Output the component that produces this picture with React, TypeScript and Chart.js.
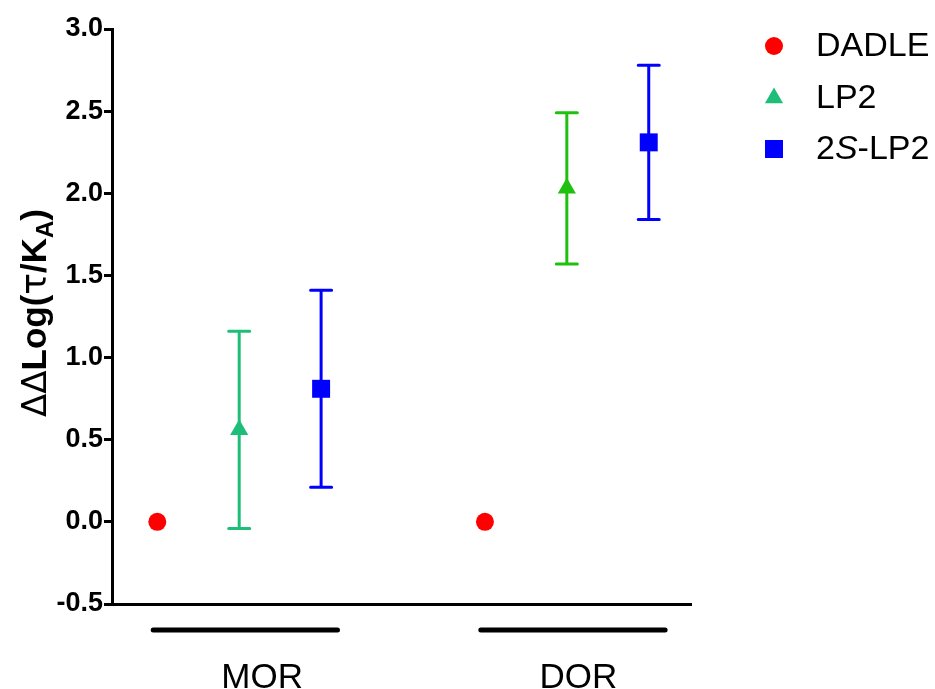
import React, { useEffect, useRef } from 'react';
import { Chart, registerables } from 'chart.js';

Chart.register(...registerables);

// ---- data ----
const groups = ['MOR', 'DOR'];
const groupOffsets = [0, 4];
const groupLabelPositions = [2.28, 6.14];
const seriesNames = ['DADLE', 'LP2', '2S-LP2'];
const seriesSlots = [1, 2, 3];
const dadleMeans = [0, 0];
const dadleErrors = [0, 0];
const lp2Means = [0.56, 2.03];
const lp2Errors = [0.6, 0.46];
const s2lp2Means = [0.81, 2.31];
const s2lp2Errors = [0.6, 0.47];
const yTickValues = [-0.5, 0, 0.5, 1.0, 1.5, 2.0, 2.5, 3.0];

const FONT = "'Liberation Sans', Arial, Helvetica, sans-serif";
const SYM = "'DejaVu Sans', 'Liberation Sans', sans-serif";
const RED = '#ff0000';
const TEAL = '#1ebe78';
const GREEN = '#20c010';
const BLUE = '#0000ff';

function drawMarker(ctx: CanvasRenderingContext2D, style: string, x: number, y: number, r: number, color: string) {
  ctx.save();
  ctx.fillStyle = color;
  ctx.beginPath();
  if (style === 'circle') {
    ctx.arc(x, y, r, 0, Math.PI * 2);
  } else if (style === 'triangle') {
    for (let k = 0; k < 3; k++) {
      const a = (k * 2 * Math.PI) / 3;
      const px = x + Math.sin(a) * r;
      const py = y - Math.cos(a) * r;
      if (k === 0) ctx.moveTo(px, py);
      else ctx.lineTo(px, py);
    }
    ctx.closePath();
  } else {
    const s = r * Math.SQRT1_2;
    ctx.rect(x - s, y - s, 2 * s, 2 * s);
  }
  ctx.fill();
  ctx.restore();
}

const errorBarPlugin = {
  id: 'errorBars',
  beforeDatasetsDraw(chart: any) {
    const ctx = chart.ctx;
    const xs = chart.scales.x;
    const ys = chart.scales.y;
    chart.data.datasets.forEach((ds: any) => {
      const errs: number[] = ds.errors || [];
      ds.data.forEach((p: any, i: number) => {
        const e = errs[i];
        if (!e) return;
        const colors = ds.errorColors || [];
        const x = xs.getPixelForValue(p.x);
        const yHi = ys.getPixelForValue(p.y + e);
        const yLo = ys.getPixelForValue(p.y - e);
        ctx.save();
        ctx.strokeStyle = colors[i] || '#000';
        ctx.lineWidth = 3;
        ctx.lineCap = 'round';
        ctx.beginPath();
        ctx.moveTo(x, yHi);
        ctx.lineTo(x, yLo);
        ctx.moveTo(x - 10.5, yHi);
        ctx.lineTo(x + 10.5, yHi);
        ctx.moveTo(x - 10.5, yLo);
        ctx.lineTo(x + 10.5, yLo);
        ctx.stroke();
        ctx.restore();
      });
    });
  },
};

const decorPlugin = {
  id: 'decor',
  afterDraw(chart: any) {
    const ctx = chart.ctx;
    const xs = chart.scales.x;
    // group underlines
    ctx.save();
    ctx.strokeStyle = '#000';
    ctx.lineWidth = 5;
    ctx.lineCap = 'round';
    groupOffsets.forEach((off) => {
      const x1 = xs.getPixelForValue(off + 0.95);
      const x2 = xs.getPixelForValue(off + 3.2);
      ctx.beginPath();
      ctx.moveTo(x1, 630);
      ctx.lineTo(x2, 630);
      ctx.stroke();
    });
    ctx.restore();

    // legend
    const rowsY = [46, 98, 149];
    const legendParts = [
      [{ t: 'DADLE', i: false }],
      [{ t: 'LP2', i: false }],
      [{ t: '2', i: false }, { t: 'S', i: true }, { t: '-LP2', i: false }],
    ];
    chart.data.datasets.forEach((ds: any, k: number) => {
      const y = rowsY[k];
      drawMarker(ctx, ds.pointStyle, 774, y, ds.pointRadius, ds.legendColor);
      let x = 816;
      ctx.save();
      ctx.fillStyle = '#000';
      ctx.textBaseline = 'middle';
      ctx.textAlign = 'left';
      legendParts[k].forEach((p) => {
        ctx.font = `${p.i ? 'italic ' : ''}34px ${FONT}`;
        ctx.fillText(p.t, x, y + 1);
        x += ctx.measureText(p.t).width;
      });
      ctx.restore();
    });

    // y-axis title  ΔΔLog(τ/K_A)
    const segs = [
      { t: '\u0394\u0394', f: `34px ${SYM}`, dy: 0 },
      { t: 'Log(', f: `bold 35px ${FONT}`, dy: 0 },
      { t: '\u03c4', f: `36px ${SYM}`, dy: 0 },
      { t: '/K', f: `bold 35px ${FONT}`, dy: 0 },
      { t: 'A', f: `bold 24px ${FONT}`, dy: 7 },
      { t: ')', f: `bold 35px ${FONT}`, dy: 0 },
    ];
    ctx.save();
    let total = 0;
    segs.forEach((s) => {
      ctx.font = s.f;
      total += ctx.measureText(s.t).width;
    });
    ctx.translate(46, 313);
    ctx.rotate(-Math.PI / 2);
    ctx.fillStyle = '#000';
    ctx.textBaseline = 'alphabetic';
    ctx.textAlign = 'left';
    let cx = -total / 2;
    segs.forEach((s) => {
      ctx.font = s.f;
      ctx.fillText(s.t, cx, s.dy);
      cx += ctx.measureText(s.t).width;
    });
    ctx.restore();
  },
};

function makePoints(means: number[], slot: number) {
  return means.map((m, i) => ({ x: groupOffsets[i] + slot, y: m }));
}

export default function App() {
  const ref = useRef<HTMLCanvasElement | null>(null);
  useEffect(() => {
    if (!ref.current) return;
    const chart = new Chart(ref.current, {
      type: 'scatter',
      data: {
        datasets: [
          {
            label: seriesNames[0],
            data: makePoints(dadleMeans, seriesSlots[0]),
            errors: dadleErrors,
            errorColors: [RED, RED],
            legendColor: RED,
            pointStyle: 'circle',
            pointRadius: 9,
            pointHoverRadius: 9,
            pointBackgroundColor: [RED, RED],
            pointBorderWidth: 0,
            clip: false,
          } as any,
          {
            label: seriesNames[1],
            data: makePoints(lp2Means, seriesSlots[1]),
            errors: lp2Errors,
            errorColors: [TEAL, GREEN],
            legendColor: TEAL,
            pointStyle: 'triangle',
            pointRadius: 10.5,
            pointHoverRadius: 10.5,
            pointBackgroundColor: [TEAL, GREEN],
            pointBorderWidth: 0,
            clip: false,
          } as any,
          {
            label: seriesNames[2],
            data: makePoints(s2lp2Means, seriesSlots[2]),
            errors: s2lp2Errors,
            errorColors: [BLUE, BLUE],
            legendColor: BLUE,
            pointStyle: 'rect',
            pointRadius: 12.7,
            pointHoverRadius: 12.7,
            pointBackgroundColor: [BLUE, BLUE],
            pointBorderWidth: 0,
            clip: false,
          } as any,
        ],
      },
      options: {
        responsive: false,
        animation: false,
        layout: { padding: { top: 29, right: 244, left: 0, bottom: 0 } },
        plugins: { legend: { display: false }, tooltip: { enabled: false } },
        scales: {
          x: {
            type: 'linear',
            min: 0.447,
            max: 7.516,
            afterBuildTicks: (s: any) => {
              s.ticks = groups.map((g, i) => ({ value: groupLabelPositions[i] }));
            },
            ticks: {
              callback: (_v: any, i: number) => groups[i],
              font: { family: FONT, size: 35 },
              color: '#000',
              padding: 53,
              maxRotation: 0,
              autoSkip: false,
            },
            grid: { display: false, drawTicks: false },
            border: { display: true, color: '#000', width: 3 },
            afterFit: (s: any) => {
              s.height = 85;
            },
          },
          y: {
            type: 'linear',
            min: -0.5,
            max: 3,
            afterBuildTicks: (s: any) => {
              s.ticks = yTickValues.map((v) => ({ value: v }));
            },
            ticks: {
              callback: (v: any) => Number(v).toFixed(1),
              font: { family: FONT, size: 27, weight: 'bold' },
              color: '#000',
              padding: 1,
            },
            grid: { drawOnChartArea: false, drawTicks: true, tickLength: 8, tickWidth: 3, tickColor: '#000' },
            border: { display: true, color: '#000', width: 3 },
            afterFit: (s: any) => {
              s.width = 112;
            },
          },
        },
      } as any,
      plugins: [errorBarPlugin, decorPlugin],
    });
    return () => chart.destroy();
  }, []);
  return (
    <div style={{ position: 'absolute', left: 0, top: 0, width: 935, height: 689, background: '#fff' }}>
      <canvas ref={ref} width={935} height={689} style={{ display: 'block' }} />
    </div>
  );
}
